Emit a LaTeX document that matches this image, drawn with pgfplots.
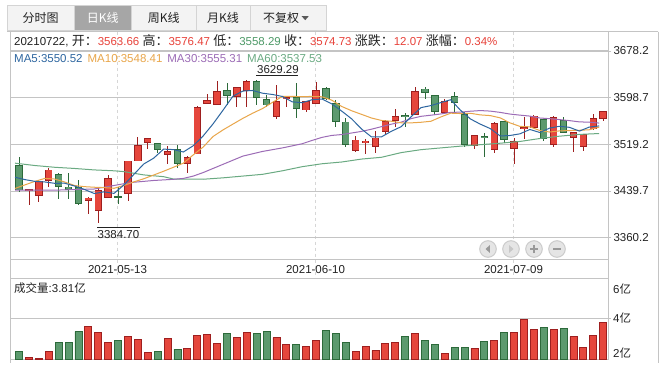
\documentclass[border=0pt]{standalone}
\usepackage{fontspec}
\setmainfont{Liberation Sans}
\newfontfamily\cjk{Noto Sans CJK SC}
\usepackage{pgfplots}
\pgfplotsset{compat=1.18}
\usepackage{pgfplotstable}

\definecolor{cr}{HTML}{E5463C}
\definecolor{crd}{HTML}{9E1F1F}
\definecolor{cg}{HTML}{5C9A6E}
\definecolor{cgd}{HTML}{2C6A3A}
\definecolor{mafive}{HTML}{2E66A0}
\definecolor{maten}{HTML}{E9A64A}
\definecolor{mathirty}{HTML}{9C6CB6}
\definecolor{masixty}{HTML}{6AAA82}
\definecolor{gridc}{HTML}{C4C4C4}
\definecolor{dashc}{HTML}{D6D6D6}
\definecolor{txt}{HTML}{222222}
\definecolor{vred}{HTML}{E8423A}
\definecolor{vgreen}{HTML}{4E9A68}
\definecolor{tabbg}{HTML}{F3F3F3}
\definecolor{tabsel}{HTML}{A6A6A6}
\definecolor{tabln}{HTML}{D4D4D4}

% daily candles: n open high low close
\pgfplotstableread{
n o h l c
2 3440.5 3443.5 3415.8 3442.6
3 3431.7 3458.0 3421.5 3456.7
4 3457.3 3478.3 3447.1 3475.5
8 3423.8 3430.0 3400.5 3427.8
9 3406.8 3444.2 3384.7 3440.3
10 3428.9 3467.0 3428.3 3461.3
12 3435.7 3491.5 3422.7 3490.8
13 3490.8 3531.1 3490.0 3517.5
14 3522.6 3530.0 3510.7 3528.9
16 3502.2 3516.4 3485.7 3506.7
18 3486.8 3499.3 3469.8 3497.1
19 3502.7 3585.1 3502.0 3582.2
20 3589.0 3604.4 3587.3 3594.2
21 3587.3 3627.0 3587.0 3609.5
23 3600.4 3617.0 3582.2 3616.3
24 3610.6 3628.0 3583.4 3626.5
27 3566.3 3620.3 3561.8 3591.9
28 3597.0 3602.0 3582.0 3599.5
30 3577.7 3593.0 3573.7 3592.5
31 3589.1 3624.8 3587.9 3611.2
35 3508.4 3533.4 3506.7 3526.6
36 3521.5 3527.7 3502.2 3524.9
37 3515.2 3541.9 3503.9 3530.0
38 3540.8 3560.7 3536.8 3557.8
39 3559.5 3579.4 3549.3 3566.9
41 3570.3 3616.3 3569.2 3609.5
44 3573.2 3595.9 3572.0 3592.5
47 3517.5 3534.5 3510.7 3534.0
49 3510.7 3557.8 3503.9 3555.0
51 3512.4 3529.4 3485.1 3523.7
52 3545.9 3566.3 3527.7 3548.2
53 3547.6 3569.2 3546.5 3567.5
55 3519.2 3567.5 3514.1 3565.2
57 3531.1 3540.8 3505.6 3539.1
58 3515.2 3536.8 3508.4 3535.7
59 3545.3 3570.9 3543.6 3563.5
60 3563.66 3576.47 3558.29 3574.73
}\upc
\pgfplotstableread{
n o h l c
1 3483.4 3497.0 3438.5 3441.4
5 3468.1 3469.5 3425.5 3447.1
6 3446.5 3469.8 3425.5 3442.5
7 3445.9 3458.4 3415.8 3418.7
11 3430.6 3447.1 3417.5 3429.5
15 3520.9 3521.5 3503.9 3510.7
17 3510.7 3517.5 3478.3 3486.8
22 3611.2 3623.1 3586.2 3602.7
25 3626.0 3629.29 3586.2 3599.3
26 3595.9 3603.3 3583.4 3586.2
29 3599.3 3623.1 3563.5 3580.5
32 3614.6 3616.3 3594.7 3597.6
33 3589.1 3594.7 3549.3 3557.8
34 3557.3 3563.5 3514.1 3519.2
40 3568.6 3572.0 3549.3 3566.3
42 3613.5 3616.3 3595.9 3607.8
43 3602.7 3603.5 3569.2 3574.9
45 3600.4 3608.9 3574.9 3590.8
46 3570.3 3574.9 3514.1 3519.2
48 3532.8 3537.9 3497.0 3530.6
50 3558.4 3559.0 3520.9 3527.7
54 3561.8 3562.3 3525.4 3529.4
56 3559.5 3566.3 3537.9 3539.1
}\dnc

\pgfplotsset{
  eb/.style={draw=none, mark=none, forget plot,
    error bars/.cd, y dir=both, y explicit, error mark=none,
    error bar style={draw, line cap=butt, #1}},
  wick/.style={eb={line width=0.8pt, #1}},
  bodyo/.style={eb={line width=7.4pt, #1}},
  bodyi/.style={eb={line width=5.8pt, #1}},
}
\newcommand{\candles}[3]{% table, dark, light
  \addplot[wick=#2] table[x=n, y expr={(\thisrow{h}+\thisrow{l})/2},
     y error expr={(\thisrow{h}-\thisrow{l})/2}] {#1};
  \addplot[bodyo=#2] table[x=n, y expr={(\thisrow{o}+\thisrow{c})/2},
     y error expr={abs(\thisrow{c}-\thisrow{o})/2+0.7}] {#1};
  \addplot[bodyi=#3] table[x=n, y expr={(\thisrow{o}+\thisrow{c})/2},
     y error expr={max(abs(\thisrow{c}-\thisrow{o})/2-0.7,0)}] {#1};
}

\newcommand{\fs}{\fontsize{11.5}{13}\selectfont}
\newcommand{\ck}[1]{{\cjk\fontsize{13}{14}\selectfont #1}}

\begin{document}
\begin{tikzpicture}[x=1pt,y=1pt]
\useasboundingbox (0,0) rectangle (667,370);
\fill[white] (0,0) rectangle (667,370);

% tabs
\foreach \a/\b in {7.3/74, 131.7/196, 196/250, 250/326}
  \filldraw[fill=tabbg, draw=tabln, line width=0.8] (\a,340) rectangle (\b,365);
\filldraw[fill=tabsel, draw=tabln, line width=0.8] (74,340) rectangle (131.7,365);
\node[txt, font=\cjk\fontsize{12}{14}\selectfont] at (40.6,352) {分时图};
\node[white, font=\cjk\fontsize{12}{14}\selectfont] at (102.8,352) {日K线};
\node[txt, font=\cjk\fontsize{12}{14}\selectfont] at (163.8,352) {周K线};
\node[txt, font=\cjk\fontsize{12}{14}\selectfont] at (223,352) {月K线};
\node[txt, font=\cjk\fontsize{12}{14}\selectfont] at (281,352) {不复权};
\fill[black!65] (301.7,353.8) -- (308.7,353.8) -- (305.2,349.8) -- cycle;

% frame
\draw[gridc, line width=0.8] (7.3,338.3) -- (658,338.3);
\draw[gridc, line width=0.8] (10,338.3) -- (10,7);
\draw[gridc, line width=0.8] (658,338.3) -- (658,7);
\draw[gridc, line width=0.8] (608,338.3) -- (608,10.7);
\foreach \x in {117.5,315.5,513.5}
  \draw[dashc, dash pattern=on 3pt off 3pt, line width=0.6] (\x,338.3) -- (\x,91.7);

% price panel
\begin{axis}[
  at={(10pt,110.7pt)}, anchor=south west, scale only axis,
  width=598pt, height=209.1pt,
  xmin=0.09, xmax=60.49, ymin=3323.2, ymax=3679.5,
  axis line style={gridc, line width=0.8pt},
  xtick=\empty,
  ytick={3360.2,3439.7,3519.2,3598.7,3678.2},
  yticklabels={3360.2,3439.7,3519.2,3598.7,3678.2},
  ytick pos=right, yticklabel pos=right, tick align=outside,
  major tick length=3pt, ytick style={gridc, line width=0.8pt},
  ymajorgrids, grid style={gridc, line width=0.8pt},
  yticklabel style={font=\fs, text=txt, xshift=-1pt},
]
\candles{\upc}{crd}{cr}
\candles{\dnc}{cgd}{cg}

\addplot[masixty, line width=1pt, mark=none, x filter/.expression={x-0.4}] coordinates {
(1,3487)(3,3483)(5,3480)(7,3478)(9,3475.5)(11,3474)(12,3472.6)(14,3467)(16,3464)(17,3460)(20,3459.6)(22,3462)(24,3465)(26,3468)(28,3474)(30,3481)(32,3486)(34,3489)(36,3494)(38,3497)(40,3505)(42,3510)(44,3513)(46,3516)(48,3518.5)(50,3521)(52,3524)(54,3529)(56,3533)(58,3536)(60,3537.53)};
\addplot[mathirty, line width=1pt, mark=none, x filter/.expression={x-0.4}] coordinates {
(1,3441)(3,3441)(5,3441)(7,3442)(9,3443)(10,3446)(11,3449)(12,3452)(13,3454.5)(15,3457.5)(17,3459.5)(18,3461)(19,3465)(20,3471)(21,3478)(22,3485)(23,3492)(24,3499)(25,3503)(26,3507)(27,3510)(28,3513)(29,3516.5)(30,3520.11)(31,3525.77)(32,3530.93)(33,3534.30)(34,3535.76)(35,3538.41)(36,3541.16)(37,3544.87)(38,3549.20)(39,3553.42)(40,3556.92)(41,3562.92)(42,3566.82)(43,3568.73)(44,3570.85)(45,3573.52)(46,3573.94)(47,3575.51)(48,3576.63)(49,3575.72)(50,3573.51)(51,3570.65)(52,3568.83)(53,3567.20)(54,3563.97)(55,3562.83)(56,3561.26)(57,3559.50)(58,3557.37)(59,3556.81)(60,3555.31)};
\addplot[maten, line width=1pt, mark=none, x filter/.expression={x-0.4}] coordinates {
(1,3444)(2,3450)(3,3456)(4,3461)(5,3460)(6,3455)(7,3449)(8,3447)(9,3446)(10,3445.39)(11,3444.20)(12,3449.02)(13,3455.10)(14,3460.44)(15,3466.80)(16,3473.22)(17,3480.03)(18,3486.96)(19,3501.15)(20,3514.44)(21,3532.44)(22,3543.63)(23,3553.51)(24,3563.27)(25,3572.13)(26,3580.08)(27,3590.59)(28,3600.83)(29,3600.66)(30,3600.49)(31,3600.66)(32,3600.15)(33,3594.30)(34,3583.57)(35,3576.30)(36,3570.17)(37,3563.98)(38,3559.81)(39,3558.45)(40,3555.83)(41,3555.66)(42,3556.68)(43,3558.39)(44,3565.72)(45,3572.14)(46,3571.57)(47,3571.97)(48,3569.25)(49,3568.06)(50,3564.20)(51,3555.62)(52,3549.66)(53,3548.92)(54,3542.61)(55,3540.05)(56,3542.04)(57,3542.55)(58,3543.06)(59,3543.91)(60,3548.41)};
\addplot[mafive, line width=1pt, mark=none, x filter/.expression={x-0.4}] coordinates {
(1,3463)(2,3459)(3,3456)(4,3455)(5,3452.66)(6,3452.88)(7,3448.10)(8,3442.32)(9,3435.28)(10,3438.12)(11,3435.52)(12,3449.94)(13,3467.88)(14,3485.60)(15,3495.48)(16,3510.92)(17,3510.12)(18,3506.04)(19,3516.70)(20,3533.40)(21,3553.96)(22,3577.14)(23,3600.98)(24,3609.84)(25,3610.86)(26,3606.20)(27,3604.04)(28,3600.68)(29,3591.48)(30,3590.12)(31,3595.12)(32,3596.26)(33,3587.92)(34,3575.66)(35,3562.48)(36,3545.22)(37,3531.70)(38,3531.70)(39,3541.24)(40,3549.18)(41,3566.10)(42,3581.66)(43,3585.08)(44,3590.20)(45,3595.10)(46,3577.04)(47,3562.28)(48,3553.42)(49,3545.92)(50,3533.30)(51,3534.20)(52,3537.04)(53,3544.42)(54,3539.30)(55,3546.80)(56,3549.88)(57,3548.06)(58,3541.70)(59,3548.52)(60,3550.52)};
\end{axis}

% volume panel
\begin{axis}[
  at={(10pt,10.7pt)}, anchor=south west, scale only axis,
  width=598pt, height=81pt,
  xmin=0.09, xmax=60.49, ymin=2, ymax=6,
  axis line style={gridc, line width=0.8pt},
  xtick=\empty, ytick={4}, yticklabels={},
  ytick pos=right, tick align=outside,
  major tick length=3pt, ytick style={gridc, line width=0.8pt},
  ymajorgrids, grid style={gridc, line width=0.8pt},
]
\addplot[ybar, bar width=7pt, bar shift=0pt, draw=crd, fill=cr, line width=0.8pt] coordinates {
(2,2.10)(3,2.02)(4,2.39)(8,3.61)(9,3.32)(10,2.83)(12,3.12)(13,2.98)(14,2.34)(16,3.02)(18,2.54)(19,3.17)(20,3.22)(21,2.78)(23,3.07)(24,3.32)(27,3.07)(28,2.73)(30,2.63)(31,2.93)(35,2.39)(36,2.63)(37,2.44)(38,2.78)(39,2.83)(41,3.27)(44,2.29)(47,2.54)(49,2.93)(51,3.32)(52,3.95)(53,3.46)(55,3.46)(57,3.12)(58,2.59)(59,3.17)(60,3.81)};
\addplot[ybar, bar width=7pt, bar shift=0pt, draw=cgd, fill=cg, line width=0.8pt] coordinates {
(1,2.39)(5,2.83)(6,2.83)(7,3.37)(11,2.93)(15,2.39)(17,2.49)(22,3.27)(25,3.27)(26,3.37)(29,2.73)(32,3.41)(33,3.27)(34,2.83)(40,3.12)(42,2.93)(43,2.73)(45,2.59)(46,2.59)(48,2.88)(50,3.32)(54,3.56)(56,3.51)};
\end{axis}

% texts
\node[anchor=west, inner sep=0, font=\fs, text=txt] at (14,329)
 {20210722, \ck{开：}\textcolor{vred}{3563.66} \ck{高：}\textcolor{vred}{3576.47} \ck{低：}\textcolor{vgreen}{3558.29} \ck{收：}\textcolor{vred}{3574.73} \ck{涨跌：}\textcolor{vred}{12.07} \ck{涨幅：}\textcolor{vred}{0.34\%}};
\node[anchor=west, inner sep=0, font=\fs] at (14,311)
 {\textcolor{mafive}{MA5:3550.52}\hspace{5pt}\textcolor{maten}{MA10:3548.41}\hspace{5pt}\textcolor{mathirty}{MA30:3555.31}\hspace{5pt}\textcolor{masixty}{MA60:3537.53}};

% max / min markers
\draw[txt, line width=0.8] (256,294.3) -- (298,294.3);
\node[anchor=base west, inner sep=0, font=\fs, text=txt] at (257,296.3) {3629.29};
\draw[txt, line width=0.8] (97,142.7) -- (140,142.7);
\node[anchor=base west, inner sep=0, font=\fs, text=txt] at (97.5,131.7) {3384.70};

% dates
\node[font=\fs, text=txt] at (117.5,100) {2021-05-13};
\node[font=\fs, text=txt] at (315.5,100) {2021-06-10};
\node[font=\fs, text=txt] at (513.5,100) {2021-07-09};

% volume
\node[anchor=west, inner sep=0, font=\fs, text=txt] at (14,82) {{\cjk 成交量}:3.81{\cjk 亿}};
\node[anchor=west, inner sep=0, font=\fs, text=txt] at (613,81) {6{\cjk 亿}};
\node[anchor=west, inner sep=0, font=\fs, text=txt] at (613,52) {4{\cjk 亿}};
\node[anchor=west, inner sep=0, font=\fs, text=txt] at (613,17) {2{\cjk 亿}};

% zoom buttons
\foreach \x in {488,511,534,557}
  \filldraw[fill=black!10, draw=black!20, line width=1] (\x,121) circle (8.3);
\fill[black!40] (485.5,121) -- (489.8,124.8) -- (489.8,117.2) -- cycle;
\fill[black!22] (513.5,121) -- (509.2,124.8) -- (509.2,117.2) -- cycle;
\draw[black!40, line width=1.6] (530,121) -- (538,121) (534,117) -- (534,125);
\draw[black!40, line width=1.6] (553,121) -- (561,121);
\end{tikzpicture}
\end{document}
